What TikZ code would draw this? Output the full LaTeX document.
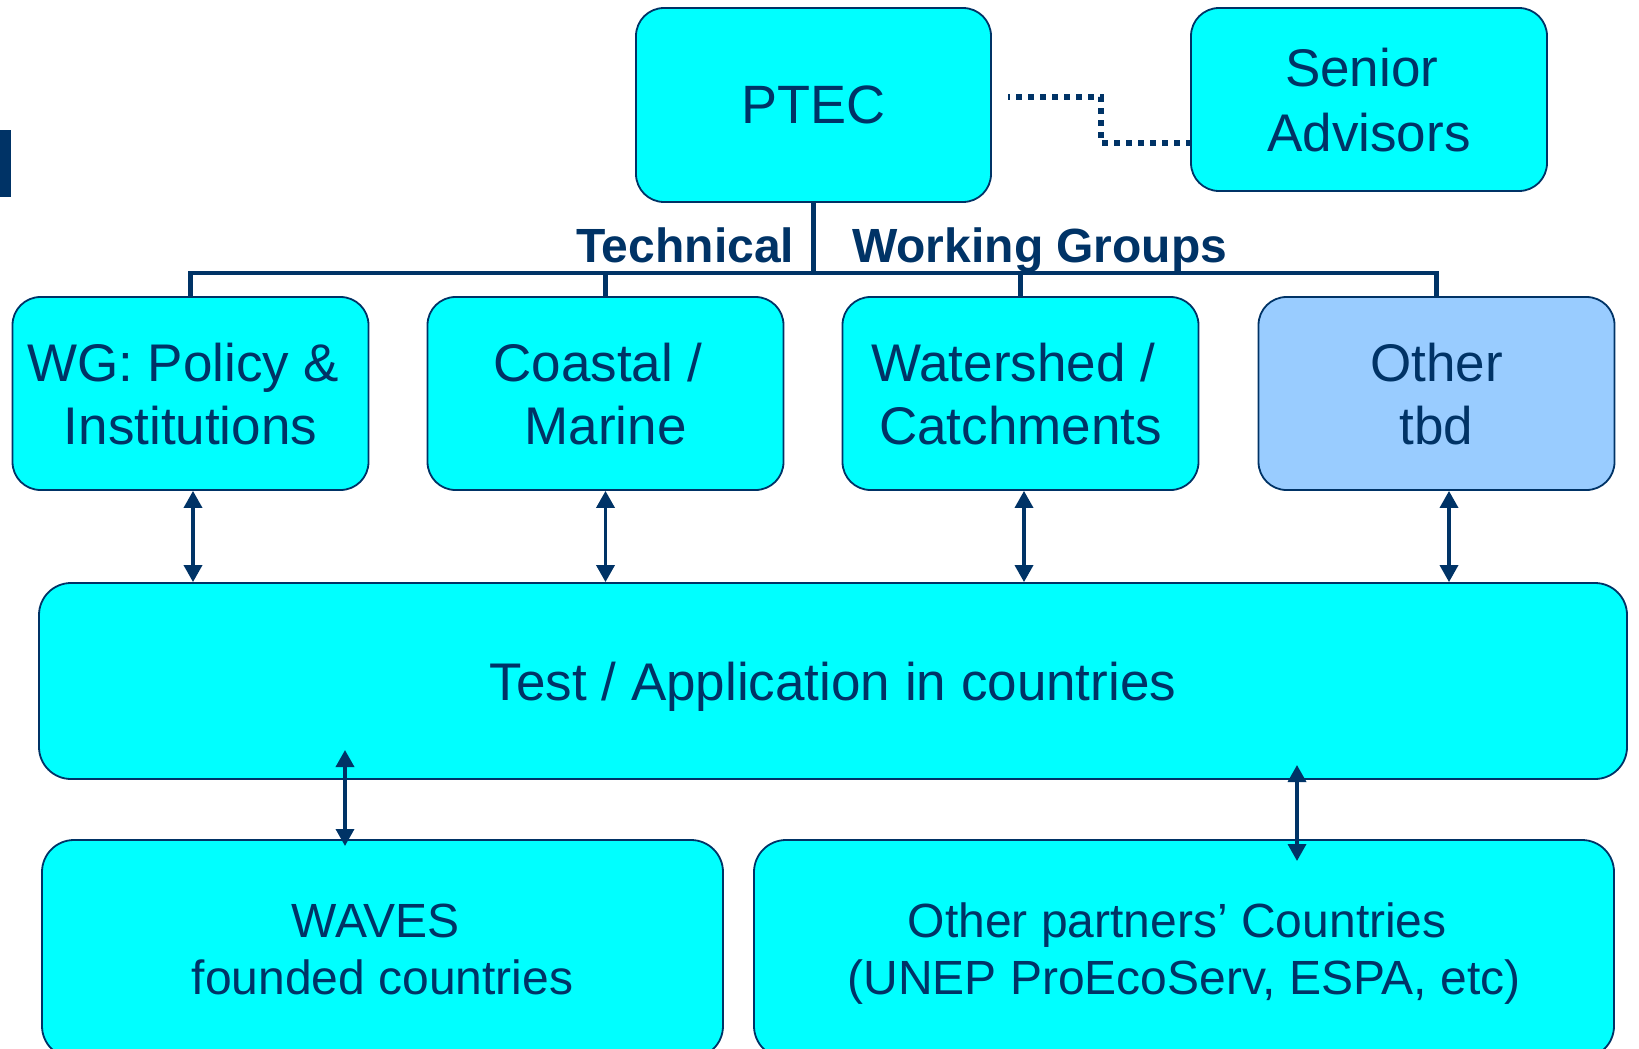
\documentclass[tikz,border=0pt]{standalone}
\usepackage{fontspec}
\setmainfont{Liberation Sans}
\usetikzlibrary{arrows.meta}
\definecolor{navy}{HTML}{003366}
\definecolor{boxcyan}{HTML}{00FFFF}
\definecolor{boxblue}{HTML}{99CCFF}
\newcommand\fBig{\fontsize{54}{63}\selectfont}
\newcommand\fTest{\fontsize{53}{63}\selectfont}
\newcommand\fMid{\fontsize{53}{63}\selectfont}
\newcommand\fSen{\fontsize{53}{65}\selectfont}
\newcommand\fLow{\fontsize{48}{57}\selectfont}
\newcommand\fLab{\fontsize{48}{57}\selectfont\bfseries}
\newcommand\tsp{\rule{0.278em}{0pt}}
\tikzset{
  box/.style={draw=navy, line width=1.8pt, fill=boxcyan, text=navy,
    rounded corners=28pt, inner sep=0pt, align=center, text depth=0pt},
  bigbox/.style={box, rounded corners=32pt},
  bus/.style={draw=navy, line width=4.5pt, line join=miter},
  biarrow/.style={draw=navy, line width=3.5pt,
    {Triangle[length=17pt,width=18pt]}-{Triangle[length=17pt,width=18pt]}},
  dotline/.style={draw=navy, line width=5.5pt, dash pattern=on 5.5pt off 6.5pt, dash phase=4pt},
  lab/.style={text=navy, inner sep=0pt, anchor=base west, font=\fLab}
}
\begin{document}
\begin{tikzpicture}[x=1pt,y=-1pt]
\useasboundingbox (0,0) rectangle (1639,1049);
% left bar
\fill[navy] (0,130) rectangle (11,197);
% boxes
\node[box, minimum width=355pt, minimum height=194pt, font=\fBig] (ptec) at (813.5,105) {PTEC};
\node[box, minimum width=356pt, minimum height=183pt, font=\fSen] (senior) at (1369,99.5) {Senior\tsp\\Advisors};
\node[box, minimum width=356pt, minimum height=193pt, font=\fMid] (wg) at (190.5,393.5) {WG: Policy \&\tsp\\Institutions};
\node[box, minimum width=356pt, minimum height=193pt, font=\fMid] (coastal) at (605.5,393.5) {Coastal /\tsp\\Marine};
\node[box, minimum width=356pt, minimum height=193pt, font=\fMid] (water) at (1020.5,393.5) {Watershed /\tsp\\Catchments};
\node[box, fill=boxblue, minimum width=356pt, minimum height=193pt, font=\fMid] (other) at (1436.5,393.5) {Other\\tbd};
\node[bigbox, minimum width=1588pt, minimum height=196pt, font=\fTest] (test) at (833,681) {Test / Application in countries};
\node[bigbox, minimum width=681pt, minimum height=218pt, font=\fLow] (waves) at (382.5,949) {WAVES\tsp\\founded countries};
\node[bigbox, minimum width=860pt, minimum height=218pt, font=\fLow] (partners) at (1184,949) {Other partners’ Countries\tsp\\(UNEP ProEcoServ, ESPA, etc)};
% bus
\coordinate (busy) at (0,273);
\draw[bus] (ptec.south) -- (ptec.south |- busy);
\draw[bus] (wg.north) -- (wg.north |- busy) -- (other.north |- busy) -- (other.north);
\draw[bus] (coastal.north) -- (coastal.north |- busy);
\draw[bus] (water.north) -- (water.north |- busy);
% labels
\node[lab] (tech) at (576,262) {Technical};
\node[lab] (wgrp) at (852,262) {Working Groups};
% dotted connector
\coordinate (d0) at (1008,97);
\coordinate (d1) at (1101,143);
\draw[dotline] (d0) -| (d1) -- (senior.west |- d1);
% arrows
\draw[biarrow] ([xshift=2.5pt]wg.south) -- ([xshift=2.5pt]wg.south |- test.north);
\draw[biarrow] (coastal.south) -- (coastal.south |- test.north);
\draw[biarrow] ([xshift=3.5pt]water.south) -- ([xshift=3.5pt]water.south |- test.north);
\draw[biarrow] ([xshift=12.5pt]other.south) -- ([xshift=12.5pt]other.south |- test.north);
\coordinate (l1a) at (345,750);
\coordinate (l1b) at (345,846);
\coordinate (l2a) at (1297,765);
\coordinate (l2b) at (1297,861);
\draw[biarrow] (l1a) -- (l1b);
\draw[biarrow] (l2a) -- (l2b);
\end{tikzpicture}
\end{document}
